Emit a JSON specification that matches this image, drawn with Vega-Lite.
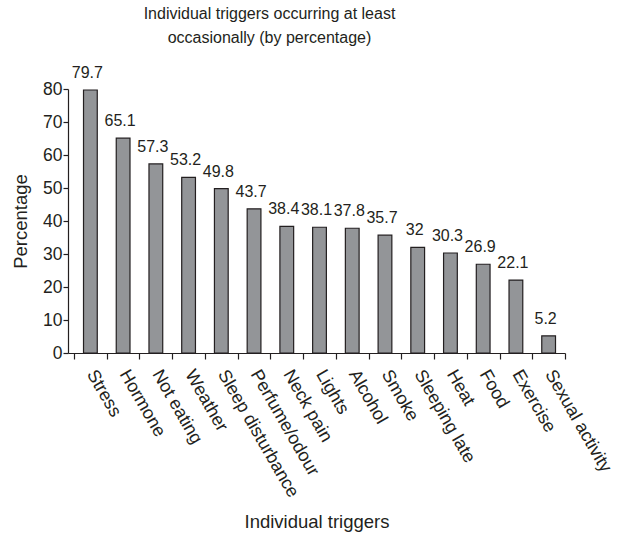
{
  "$schema": "https://vega.github.io/schema/vega-lite/v6.json",
  "autosize": "none",
  "width": 497,
  "height": 264,
  "padding": {"left": 68, "top": 89, "right": 53, "bottom": 180},
  "background": "white",
  "config": {
    "font": "Liberation Sans",
    "view": {"stroke": null}
  },
  "title": {
    "text": ["Individual triggers occurring at least", "occasionally (by percentage)"],
    "font": "Liberation Sans",
    "fontSize": 16,
    "fontWeight": "normal",
    "color": "#231f20",
    "anchor": "middle",
    "dx": -47,
    "offset": 19,
    "lineHeight": 24
  },
  "data": {
    "values": [
      {"trigger": "Stress", "pct": 79.7},
      {"trigger": "Hormone", "pct": 65.1},
      {"trigger": "Not eating", "pct": 57.3},
      {"trigger": "Weather", "pct": 53.2},
      {"trigger": "Sleep disturbance", "pct": 49.8},
      {"trigger": "Perfume/odour", "pct": 43.7},
      {"trigger": "Neck pain", "pct": 38.4},
      {"trigger": "Lights", "pct": 38.1},
      {"trigger": "Alcohol", "pct": 37.8},
      {"trigger": "Smoke", "pct": 35.7},
      {"trigger": "Sleeping late", "pct": 32},
      {"trigger": "Heat", "pct": 30.3},
      {"trigger": "Food", "pct": 26.9},
      {"trigger": "Exercise", "pct": 22.1},
      {"trigger": "Sexual activity", "pct": 5.2}
    ]
  },
  "encoding": {
    "x": {
      "field": "trigger",
      "type": "nominal",
      "sort": null,
      "scale": {"paddingInner": 0, "paddingOuter": 0.092, "align": 1},
      "axis": {
        "title": "Individual triggers",
        "titleFont": "Liberation Sans",
        "titleFontSize": 18.5,
        "titleFontWeight": "normal",
        "titleColor": "#231f20",
        "titlePadding": 12,
        "labelAngle": 60,
        "labelAlign": "left",
        "labelBaseline": "middle",
        "labelFontSize": 18,
        "labelColor": "#231f20",
        "labelPadding": 12,
        "labelLimit": 300,
        "tickBand": "extent",
        "tickSize": 6,
        "tickColor": "#231f20",
        "domainColor": "#231f20",
        "domainWidth": 1.2,
        "tickWidth": 1.2
      }
    },
    "y": {
      "field": "pct",
      "type": "quantitative",
      "scale": {"domain": [0, 80], "nice": false},
      "axis": {
        "title": "Percentage",
        "titleFont": "Liberation Sans",
        "titleFontSize": 18.5,
        "titleFontWeight": "normal",
        "titleColor": "#231f20",
        "titlePadding": 12,
        "values": [0, 10, 20, 30, 40, 50, 60, 70, 80],
        "labelFontSize": 17.5,
        "labelColor": "#231f20",
        "labelPadding": 1,
        "tickSize": 5,
        "tickColor": "#231f20",
        "domainColor": "#231f20",
        "domainWidth": 1.2,
        "tickWidth": 1.2,
        "grid": false
      }
    }
  },
  "layer": [
    {
      "mark": {"type": "bar", "width": {"band": 0.42}, "fill": "#939598", "stroke": "#231f20", "strokeWidth": 1.2}
    },
    {
      "mark": {"type": "text", "baseline": "bottom", "dy": -9, "dx": -3, "fontSize": 16, "color": "#231f20"},
      "encoding": {"text": {"field": "pct", "type": "quantitative"}}
    }
  ]
}
